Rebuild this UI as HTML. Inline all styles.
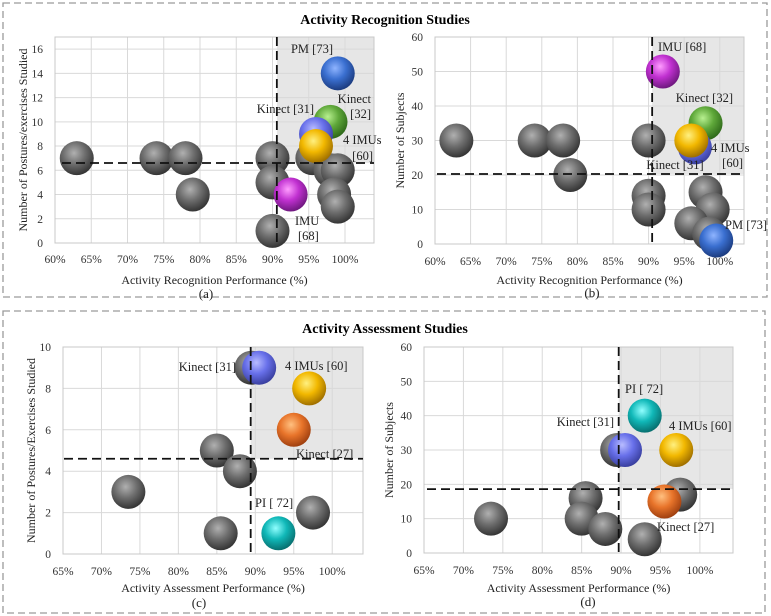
<!DOCTYPE html>
<html><head><meta charset="utf-8"><style>
html,body{margin:0;padding:0;background:#fff;}
svg{display:block;font-family:"Liberation Serif",serif;}
</style></head><body>
<svg id="fig" width="771" height="616" viewBox="0 0 771 616" xmlns="http://www.w3.org/2000/svg">
<defs>
<radialGradient id="g-gray" cx="42%" cy="35%" r="65%"><stop offset="0" stop-color="#b0b0b0"/><stop offset="0.5" stop-color="#6e6e6e"/><stop offset="1" stop-color="#353535"/></radialGradient>
<radialGradient id="g-blue" cx="42%" cy="35%" r="65%"><stop offset="0" stop-color="#8fb4ff"/><stop offset="0.5" stop-color="#3a6fd0"/><stop offset="1" stop-color="#1c3c80"/></radialGradient>
<radialGradient id="g-slate" cx="42%" cy="35%" r="65%"><stop offset="0" stop-color="#b8bcff"/><stop offset="0.5" stop-color="#6870ea"/><stop offset="1" stop-color="#3a40a0"/></radialGradient>
<radialGradient id="g-green" cx="42%" cy="35%" r="65%"><stop offset="0" stop-color="#b8f090"/><stop offset="0.5" stop-color="#5fa83a"/><stop offset="1" stop-color="#2f6a1a"/></radialGradient>
<radialGradient id="g-yellow" cx="42%" cy="35%" r="65%"><stop offset="0" stop-color="#fff080"/><stop offset="0.5" stop-color="#f2b800"/><stop offset="1" stop-color="#a07000"/></radialGradient>
<radialGradient id="g-magenta" cx="42%" cy="35%" r="65%"><stop offset="0" stop-color="#ff9cff"/><stop offset="0.5" stop-color="#c030d0"/><stop offset="1" stop-color="#701880"/></radialGradient>
<radialGradient id="g-orange" cx="42%" cy="35%" r="65%"><stop offset="0" stop-color="#ffc080"/><stop offset="0.5" stop-color="#e8742a"/><stop offset="1" stop-color="#a04010"/></radialGradient>
<radialGradient id="g-cyan" cx="42%" cy="35%" r="65%"><stop offset="0" stop-color="#90ffff"/><stop offset="0.5" stop-color="#10b8b8"/><stop offset="1" stop-color="#087070"/></radialGradient>
</defs>
<rect x="3" y="3" width="764" height="294" fill="none" stroke="#9a9a9a" stroke-width="1.3" stroke-dasharray="7,4"/>
<rect x="3" y="311" width="762" height="302" fill="none" stroke="#9a9a9a" stroke-width="1.3" stroke-dasharray="7,4"/>
<text x="385" y="24" text-anchor="middle" font-size="14" font-weight="bold">Activity Recognition Studies</text>
<text x="385" y="333" text-anchor="middle" font-size="14" font-weight="bold">Activity Assessment Studies</text>
</svg>
<script>
// Panel (a)
const aX = [63,74,78,79,90,90,90,95.5,98,99,98.5,99, 99,98,96,96,92.5];
const aY = [7,7,7,4,7,5,1,7,6,6,4,3, 14,10,9,8,4];
const aC = ["gray","gray","gray","gray","gray","gray","gray","gray","gray","gray","gray","gray","blue","green","slate","yellow","magenta"];
// Panel (b)
const bX = [63,74,78,79,90,90,90,98,99,96,98.5, 92,98,96.5,96,99.5];
const bY = [30,30,30,20,30,14,10,15,10,6,3, 50,35,28,30,1];
const bC = ["gray","gray","gray","gray","gray","gray","gray","gray","gray","gray","gray","magenta","green","slate","yellow","blue"];
// Panel (c)
const cX = [73.5,85,88,85.5,97.5,89.5, 90.5,97,95,93];
const cY = [3,5,4,1,2,9, 9,8,6,1];
const cC = ["gray","gray","gray","gray","gray","gray","slate","yellow","orange","cyan"];
// Panel (d)
const dX = [73.5,85.5,85,88,93,97.5,89.5, 90.5,93,97,95.5];
const dY = [10,16,10,7,4,17,30, 30,40,30,15];
const dC = ["gray","gray","gray","gray","gray","gray","gray","slate","cyan","yellow","orange"];
// Thresholds
const aThr = [90.6, 6.6], bThr = [90.5, 20.3], cThr = [89.4, 4.6], dThr = [89.7, 18.6];
// Ticks
const xTicksAB = ["60%","65%","70%","75%","80%","85%","90%","95%","100%"];
const xTicksCD = ["65%","70%","75%","80%","85%","90%","95%","100%"];
const aYTicks = [0,2,4,6,8,10,12,14,16];
const bYTicks = [0,10,20,30,40,50,60];
const cYTicks = [0,2,4,6,8,10];
const dYTicks = [0,10,20,30,40,50,60];

const NS = "http://www.w3.org/2000/svg";
const svg = document.getElementById("fig");
function mk(tag, attrs, parent){const e=document.createElementNS(NS,tag);for(const k in attrs)e.setAttribute(k,attrs[k]);(parent||svg).appendChild(e);return e;}

function panel(p){
  const g = mk("g",{});
  
  
  const sx = v => p.L + (v - p.xmin) / (p.xmax - p.xmin) * (p.R - p.L);
  const sy = v => p.B - (v - p.ymin) / (p.ymax - p.ymin) * (p.B - p.T);
  // shaded quadrant
  const sh = mk("rect",{x:sx(p.thr[0]),y:p.T,width:p.R-sx(p.thr[0]),height:sy(p.thr[1])-p.T,fill:"#e6e6e6"},g);
  
  
  // grid
  p.xt.forEach(t=>{const v=parseFloat(t);const x=sx(v);
    const l=mk("line",{x1:x,x2:x,y1:p.T,y2:p.B,stroke:"#d9d9d9","stroke-width":1},g);
    
    
    const tx=mk("text",{x:x,y:p.xly,"text-anchor":"middle","font-size":11.5,fill:"#333"},g);tx.textContent=t;
    
    
  });
  p.yt.forEach(v=>{const y=sy(v);
    const l=mk("line",{x1:p.L,x2:p.R,y1:y,y2:y,stroke:"#d9d9d9","stroke-width":1},g);
    
    
    const tx=mk("text",{x:p.L-12,y:y+4,"text-anchor":"end","font-size":11.5,fill:"#333"},g);tx.textContent=v;
    
    
  });
  const fr=mk("rect",{x:p.L,y:p.T,width:p.R-p.L,height:p.B-p.T,fill:"none",stroke:"#c8c8c8"},g);
  
  
  // bubbles
  for(let i=0;i<p.xs.length;i++){
    const c=mk("circle",{cx:sx(p.xs[i]),cy:sy(p.ys[i]),r:17,fill:"url(#g-"+p.cs[i]+")"},g);
    
    
  }
  // threshold lines
  const vl=mk("line",{x1:sx(p.thr[0]),x2:sx(p.thr[0]),y1:p.T,y2:p.B,stroke:"#111","stroke-width":1.8,"stroke-dasharray":"9,5"},g);
  
  
  const hl=mk("line",{x1:p.hx0,x2:p.R,y1:sy(p.thr[1]),y2:sy(p.thr[1]),stroke:"#111","stroke-width":1.8,"stroke-dasharray":"9,5"},g);
  
  
  // labels
  p.labels.forEach(lb=>{
    const t=mk("text",{x:lb[1],y:lb[2],"text-anchor":lb[3]||"start","font-size":12.5,fill:"#222"},g);t.textContent=lb[0];
    
    
  });
  const xt=mk("text",{x:(p.L+p.R)/2,y:p.xty,"text-anchor":"middle","font-size":12,fill:"#222"},g);xt.textContent=p.xtitle;
  
  
  const yc=(p.T+p.B)/2;
  const yt=mk("text",{x:p.ytx,y:yc,"text-anchor":"middle","font-size":12,fill:"#222",transform:"rotate(-90 "+p.ytx+" "+yc+")"},g);yt.textContent=p.ytitle;
  
  
  const sub=mk("text",{x:p.subx,y:p.suby,"text-anchor":"middle","font-size":13,fill:"#222"},g);sub.textContent=p.sub;
  
  
}

panel({name:"panel-a",L:55,R:374,xmin:60,xmax:104,T:37,B:243,ymin:0,ymax:17,xs:aX,ys:aY,cs:aC,thr:aThr,xt:xTicksAB,yt:aYTicks,hx0:62,xly:263,xty:284,ytx:27,subx:206,suby:298,
  xtitle:"Activity Recognition Performance (%)",ytitle:"Number of Postures/exercises Studied",sub:"(a)",
  labels:[["PM [73]",312,53,"middle"],["Kinect [31]",314,113,"end"],["Kinect",371,103,"end"],["[32]",371,118,"end"],["4 IMUs",343,144],["[60]",373,160,"end"],["IMU",295,225],["[68]",298,240]]});
panel({name:"panel-b",L:435,R:744,xmin:60,xmax:103.4,T:37,B:244,ymin:0,ymax:60,xs:bX,ys:bY,cs:bC,thr:bThr,xt:xTicksAB,yt:bYTicks,hx0:437,xly:265,xty:284,ytx:404,subx:592,suby:297,
  xtitle:"Activity Recognition Performance (%)",ytitle:"Number of Subjects",sub:"(b)",
  labels:[["IMU [68]",658,51],["Kinect [32]",733,102,"end"],["4 IMUs",711,152],["[60]",743,167,"end"],["Kinect [31]",675,169,"middle"],["PM [73]",725,229]]});
panel({name:"panel-c",L:63,R:363,xmin:65,xmax:104,T:347,B:554,ymin:0,ymax:10,xs:cX,ys:cY,cs:cC,thr:cThr,xt:xTicksCD,yt:cYTicks,hx0:64,xly:575,xty:592,ytx:35,subx:199,suby:607,
  xtitle:"Activity Assessment Performance (%)",ytitle:"Number of Postures/Exercises Studied",sub:"(c)",
  labels:[["Kinect [31]",236,371,"end"],["4 IMUs [60]",285,370],["Kinect [27]",296,458],["PI [ 72]",255,507]]});
panel({name:"panel-d",L:424,R:733,xmin:65,xmax:104.2,T:347,B:553,ymin:0,ymax:60,xs:dX,ys:dY,cs:dC,thr:dThr,xt:xTicksCD,yt:dYTicks,hx0:427,xly:574,xty:592,ytx:393,subx:588,suby:606,
  xtitle:"Activity Assessment Performance (%)",ytitle:"Number of Subjects",sub:"(d)",
  labels:[["PI [ 72]",625,393],["Kinect [31]",614,426,"end"],["4 IMUs [60]",669,430],["Kinect [27]",657,531]]});
</script>
</body></html>
